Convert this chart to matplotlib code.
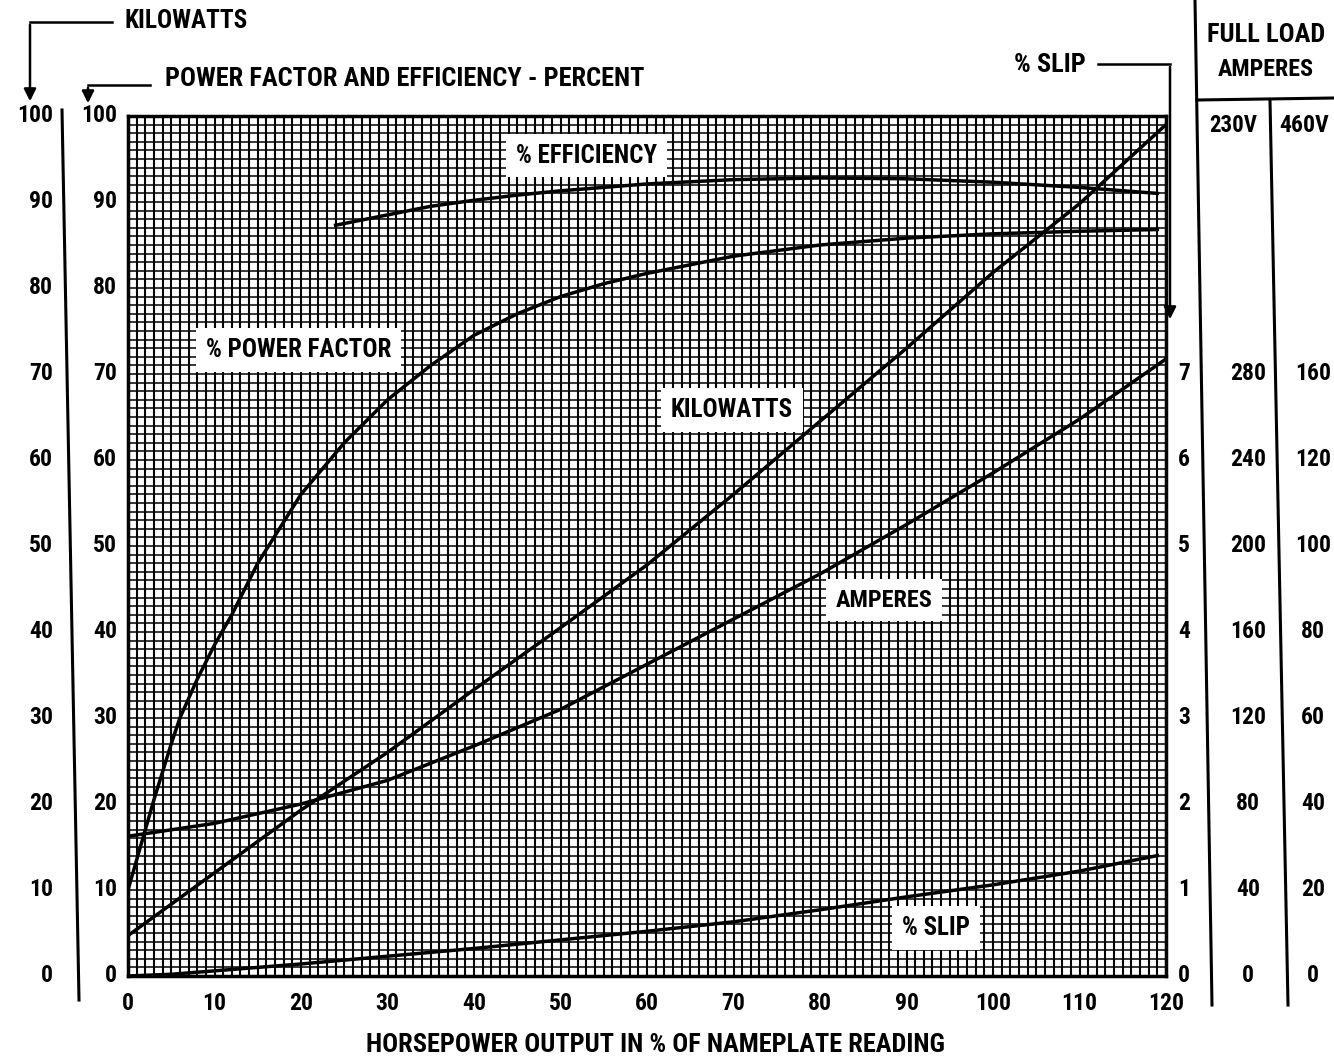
import matplotlib
matplotlib.use("Agg")
import matplotlib.pyplot as plt
from matplotlib import font_manager as fm
from matplotlib.lines import Line2D
from matplotlib.patches import FancyArrowPatch
from matplotlib.ticker import MultipleLocator
from matplotlib.transforms import blended_transform_factory as btf

# ---------------- data ----------------
hp_pf = [0, 2, 3, 5, 6, 8, 10, 12, 15, 20, 25, 30, 35, 40, 45, 50, 55, 60, 70, 80, 90, 100, 110, 119]
power_factor = [10, 17, 20.5, 27, 30, 34.5, 38.5, 42, 48, 56, 62, 67, 71, 74.5, 77, 79, 80.5, 81.7,
                83.7, 85, 85.8, 86.3, 86.6, 86.8]

hp_eff = [24, 30, 35, 40, 45, 50, 60, 70, 80, 90, 100, 110, 119]
efficiency = [87.3, 88.5, 89.5, 90.2, 90.8, 91.3, 92.1, 92.6, 92.8, 92.7, 92.3, 91.7, 91.0]

hp_lin = [0, 10, 20, 30, 40, 50, 60, 70, 80, 90, 100, 110, 120]
kilowatts = [4.7, 12, 19.3, 26, 33.3, 40.5, 47.8, 56, 64.5, 73, 81.8, 89.8, 99]
amperes_230v = [65, 71, 80, 91, 107, 124, 145, 166, 187, 210, 234, 259, 287]

hp_slip = [0, 5, 10, 20, 30, 40, 50, 60, 70, 80, 90, 100, 110, 119]
slip_pct = [0, 0.02, 0.06, 0.14, 0.23, 0.32, 0.42, 0.52, 0.63, 0.77, 0.92, 1.06, 1.22, 1.4]

x_ticks = [0, 10, 20, 30, 40, 50, 60, 70, 80, 90, 100, 110, 120]
kw_ticks = [0, 10, 20, 30, 40, 50, 60, 70, 80, 90, 100]
pct_ticks = [0, 10, 20, 30, 40, 50, 60, 70, 80, 90, 100]
slip_ticks = [0, 1, 2, 3, 4, 5, 6, 7]
amp230_ticks = [0, 40, 80, 120, 160, 200, 240, 280]
amp460_labels = ["0", "20", "40", "60", "80", "100", "120", "160"]

# ---------------- font choice: a narrow bold face if one is installed ----------------
entries = fm.fontManager.ttflist
names = {f.name for f in entries}


def is_cond(f):
    st = f.stretch
    if isinstance(st, str):
        return st in ("condensed", "semi-condensed", "extra-condensed")
    return st < 500


stretch = "normal"
if "Liberation Sans Narrow" in names:
    fam = ["Liberation Sans Narrow", "DejaVu Sans"]
    stretch = "condensed"
elif "Roboto Condensed" in names:
    fam = ["Roboto Condensed", "DejaVu Sans"]
elif any(f.name == "DejaVu Sans" and is_cond(f) for f in entries):
    fam = ["DejaVu Sans"]
    stretch = "condensed"
elif "Roboto" in names:
    fam = ["Roboto", "DejaVu Sans"]
else:
    fam = ["DejaVu Sans"]
plt.rcParams["font.family"] = fam
plt.rcParams["font.stretch"] = stretch
plt.rcParams["font.weight"] = "bold"

# ---------------- figure ----------------
W, H = 1334, 1063
fig = plt.figure(figsize=(W / 100, H / 100), dpi=100)
fig.patch.set_facecolor("white")


def fx(px):
    return px / W


def fy(py):
    return 1 - py / H


L, R, T, B = 128, 1166, 116, 976
ax = fig.add_axes([fx(L), fy(B), (R - L) / W, (B - T) / H])
ax.set_xlim(0, 120)
ax.set_ylim(0, 100)
ax.xaxis.set_major_locator(MultipleLocator(1))
ax.yaxis.set_major_locator(MultipleLocator(1))
ax.tick_params(length=0, labelbottom=False, labelleft=False)
ax.grid(True, axis="x", color="black", lw=1.5, zorder=1)
ax.grid(True, axis="y", color="black", lw=1.1, zorder=1)
ax.set_axisbelow(True)
for s in ax.spines.values():
    s.set_linewidth(2.5)

ax_s = ax.twinx()
ax_s.set_ylim(0, 10)
ax_s.axis("off")
ax_a = ax.twinx()
ax_a.set_ylim(0, 400)
ax_a.axis("off")

lw = 2.5
ax.plot(hp_pf, power_factor, color="black", lw=lw, zorder=3)
ax.plot(hp_eff, efficiency, color="black", lw=lw, zorder=3)
ax.plot(hp_lin, kilowatts, color="black", lw=lw, zorder=3)
ax_a.plot(hp_lin, amperes_230v, color="black", lw=lw, zorder=3)
ax_s.plot(hp_slip, slip_pct, color="black", lw=lw, zorder=3)

fits = []  # (text, target width px)

box = dict(facecolor="white", edgecolor="none", pad=7)
fs_lab = 18
for xv, yv, s, wpx in [(53, 95.4, "% EFFICIENCY", 160), (19.7, 72.8, "% POWER FACTOR", 205),
                       (69.8, 65.8, "KILOWATTS", 122), (87.4, 43.7, "AMPERES", 97),
                       (93.4, 5.6, "% SLIP", 72)]:
    t = ax.text(xv, yv, s, ha="center", va="center", fontsize=fs_lab, bbox=box, zorder=5)
    fits.append((t, wpx))

fs_num = 17
# x tick labels
tx = btf(ax.transData, fig.transFigure)
for v in x_ticks:
    ax.text(v, fy(1003), str(v), transform=tx, ha="center", va="center", fontsize=fs_num, clip_on=False)
t = fig.text(fx(655), fy(1045), "HORSEPOWER OUTPUT IN % OF NAMEPLATE READING", ha="center", va="center",
             fontsize=19)
fits.append((t, 595))

# left scales
ty = btf(fig.transFigure, ax.transData)
for v in kw_ticks:
    ax.text(fx(53), v, str(v), transform=ty, ha="right", va="center", fontsize=fs_num, clip_on=False)
for v in pct_ticks:
    ax.text(fx(117), v, str(v), transform=ty, ha="right", va="center", fontsize=fs_num, clip_on=False)

# right scales
ts = btf(fig.transFigure, ax_s.transData)
for v in slip_ticks:
    ax_s.text(fx(1184), v, str(v), transform=ts, ha="center", va="center", fontsize=fs_num, clip_on=False)
ta = btf(fig.transFigure, ax_a.transData)
for v, l460 in zip(amp230_ticks, amp460_labels):
    ax_a.text(fx(1248), v, str(v), transform=ta, ha="center", va="center", fontsize=fs_num, clip_on=False)
    ax_a.text(fx(1313), v, l460, transform=ta, ha="center", va="center", fontsize=fs_num, clip_on=False)


def line(xs, ys, lw=2.0):
    fig.add_artist(Line2D([fx(x) for x in xs], [fy(y) for y in ys], color="black", lw=lw,
                          transform=fig.transFigure))


def arrow_down(x, y0, y1):
    fig.add_artist(FancyArrowPatch((fx(x), fy(y0)), (fx(x), fy(y1)), transform=fig.transFigure,
                                   arrowstyle="-|>", mutation_scale=18, color="black", lw=1.8))


# left separators and header arrows
line([62, 79], [110, 1000], lw=2.2)
line([30, 112], [22, 22], lw=1.8)
arrow_down(30, 22, 104)
t = fig.text(fx(125), fy(21), "KILOWATTS", ha="left", va="center", fontsize=19)
fits.append((t, 123))
line([88, 150], [85, 85], lw=1.8)
arrow_down(88, 85, 106)
t = fig.text(fx(165), fy(79), "POWER FACTOR AND EFFICIENCY - PERCENT", ha="left", va="center", fontsize=19)
fits.append((t, 503))

# % slip header arrow
t = fig.text(fx(1086), fy(65), "% SLIP", ha="right", va="center", fontsize=19)
fits.append((t, 72))
line([1098, 1170], [64, 64], lw=1.8)
arrow_down(1170, 64, 322)

# right table
line([1195, 1212], [0, 1005], lw=2.2)
line([1197, 1334], [100, 98], lw=2.2)
line([1270, 1288], [100, 1005], lw=2.2)
t = fig.text(fx(1266), fy(35), "FULL LOAD", ha="center", va="center", fontsize=19)
fits.append((t, 128))
t = fig.text(fx(1266), fy(70), "AMPERES", ha="center", va="center", fontsize=19)
fits.append((t, 96))
t = fig.text(fx(1233), fy(125), "230V", ha="center", va="center", fontsize=18)
fits.append((t, 48))
t = fig.text(fx(1304), fy(125), "460V", ha="center", va="center", fontsize=18)
fits.append((t, 50))

# shrink any text wider than the space it takes in the reference
fig.canvas.draw()
r = fig.canvas.get_renderer()
for t, wpx in fits:
    w = t.get_window_extent(renderer=r).width
    if w > wpx:
        t.set_fontsize(t.get_fontsize() * wpx / w)

fig.savefig("out.png", dpi=100)
